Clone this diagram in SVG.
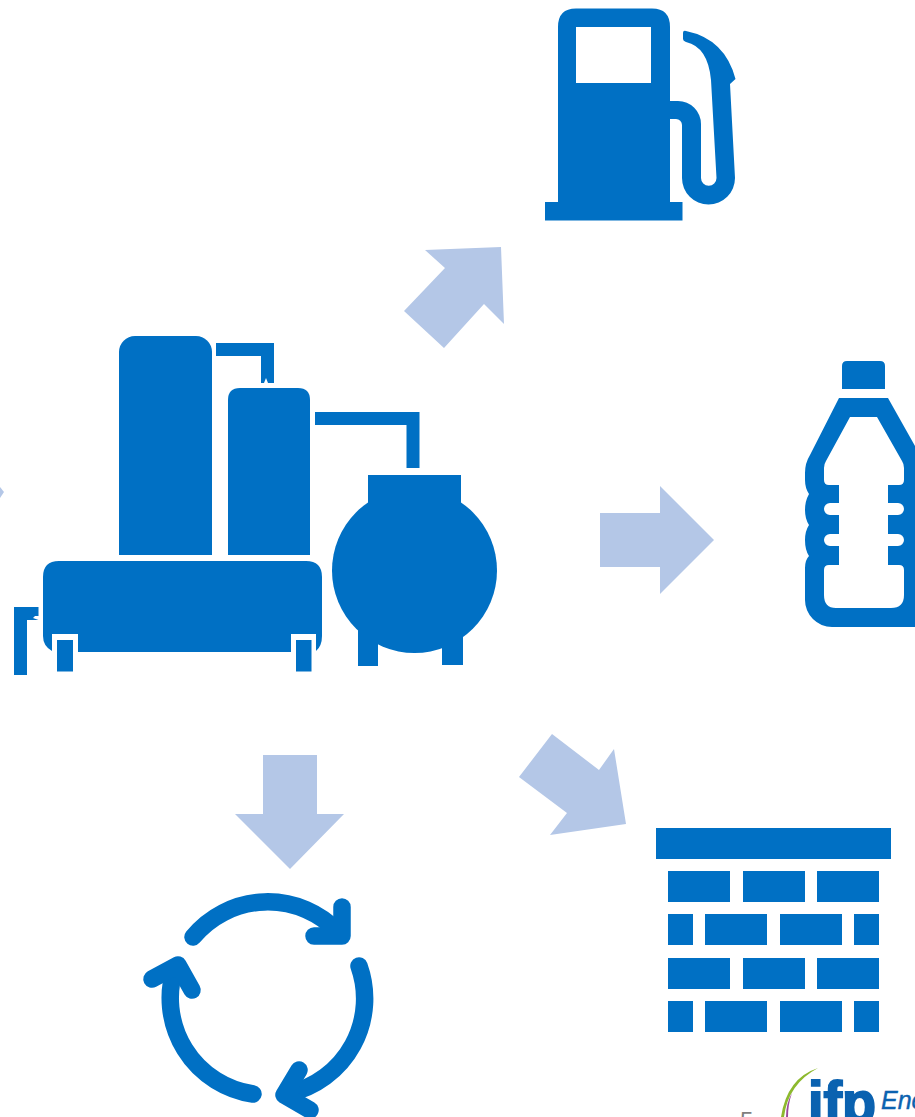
<svg xmlns="http://www.w3.org/2000/svg" width="915" height="1117" viewBox="0 0 915 1117">
<style>
.b{fill:#0070C4}
.a{fill:#B4C7E7}
.s{fill:none;stroke:#0070C4;stroke-width:17.5;stroke-linecap:round;stroke-linejoin:round}
.f{font-family:'Liberation Sans',sans-serif}
</style>
<rect width="915" height="1117" fill="#fff"/>
<g id="connectors">
<polygon class="a" points="425,250 501,247 504,324 484,304 444,348 404,311 445,268"/>
<polygon class="a" points="600,513 660,513 660,486 714,540 660,594 660,567 600,567"/>
<polygon class="a" points="552,734 599,770 614,749 626,824 550,835 567,813 519,777"/>
<polygon class="a" points="263,755 317,755 317,814 344,814 290,869 235,814 263,814"/>
<polygon class="a" points="0,487 4,492 0,498"/>
</g>
<g id="pump">
<path class="b" fill-rule="evenodd" d="M576,8.500H652Q670,8.500 670,27V202H682.500V220.500H545V202H558V27Q558,8.500 576,8.500ZM576,27V83H651V27Z"/>
<path class="b" d="M670,101H678A23,23 0 0 1 701,124V178A7.700,7.700 0 0 0 716.500,178L711,80Q708,47 686,42Q683,41 683,39V33Q683,30 686,31Q725,39 735.500,79L730,84L735,178A26.500,26.500 0 0 1 682,178V125A6,6 0 0 0 676,119H670Z"/>
</g>
<g id="plant">
<rect class="b" x="119" y="336" width="93" height="219" rx="16" ry="16"/>
<rect class="b" x="119" y="400" width="93" height="155"/>
<path class="b" d="M216,343H274V383H268L266,378L264,383H261V356H216Z"/>
<path class="b" d="M240,388H298Q310,388 310,400V555H228V400Q228,388 240,388Z"/>
<path class="b" d="M315,412H419.500V468H406.500V425H315Z"/>
<circle class="b" cx="414.500" cy="570.500" r="82.500"/>
<rect class="b" x="368" y="475" width="93" height="30"/>
<rect class="b" x="358" y="630" width="20" height="36"/>
<rect class="b" x="442" y="636" width="21" height="29"/>
<path class="b" d="M59,561H306Q322,561 322,577V636Q322,646 316,651V634H291V652H78V634H52V651Q43,646 43,636V577Q43,561 59,561Z"/>
<rect class="b" x="57" y="640" width="16" height="31.500"/>
<rect class="b" x="296" y="640" width="15.500" height="31.500"/>
<path class="b" d="M14,607H38.500V616H35L33,618L38.500,620H27V675H14Z"/>
</g>
<g id="bottle">
<path class="b" d="M847,361H880Q885,361 885,366V389H842V366Q842,361 847,361Z"/>
<path class="b" fill-rule="evenodd" d="M839,398H888L915,446V627H832A27,27 0 0 1 805,600V568Q805,560 809,556Q805,550 805,540Q805,531 809,525Q805,519 805,510Q805,501 809,494Q805,488 805,480V473Q805,463 810,455ZM850,417L826,461Q824,464 824,468V480Q824,485 829,485H839V503H830A6,6 0 0 0 830,515H839V534H830A6,6 0 0 0 830,546H839V565H829Q824,565 824,570V595Q824,608 836,608H891Q904,608 904,595V570Q904,565 899,565H888V546H898A6,6 0 0 0 898,534H888V515H898A6,6 0 0 0 898,503H888V485H899Q904,485 904,480V468Q904,464 902,461L877,417Z"/>
</g>
<g id="bricks">
<rect class="b" x="656" y="828" width="235" height="31"/>
<rect class="b" x="668" y="871" width="62" height="31"/><rect class="b" x="743" y="871" width="62" height="31"/><rect class="b" x="817" y="871" width="62" height="31"/>
<rect class="b" x="668" y="914" width="25" height="31"/><rect class="b" x="705" y="914" width="62" height="31"/><rect class="b" x="780" y="914" width="62" height="31"/><rect class="b" x="854" y="914" width="25" height="31"/>
<rect class="b" x="668" y="958" width="62" height="31"/><rect class="b" x="743" y="958" width="62" height="31"/><rect class="b" x="817" y="958" width="62" height="31"/>
<rect class="b" x="668" y="1001" width="25" height="31"/><rect class="b" x="705" y="1001" width="62" height="31"/><rect class="b" x="780" y="1001" width="62" height="31"/><rect class="b" x="854" y="1001" width="25" height="31"/>
</g>
<g id="recycle">
<path class="s" d="M193,937A97,97 0 0 1 338,932"/>
<path class="s" d="M342,907V936H314"/>
<path class="s" d="M359,966A97,97 0 0 1 290,1093"/>
<path class="s" d="M299,1070L284,1095L310,1110"/>
<path class="s" d="M253,1094A97,97 0 0 1 175,968"/>
<path class="s" d="M152,979L178,965L192,990"/>
</g>
<g id="logo">
<path fill="#8DB92E" d="M818,1068Q787,1078 781,1117H784Q788,1084 818,1068Z"/>
<path fill="#9B4A9E" d="M792,1093Q786,1103 786,1117H788Q788,1104 792,1093Z"/>
<text class="f" x="808" y="1122" font-weight="700" font-size="58" fill="#0B62B0" stroke="#0B62B0" stroke-width="2" textLength="68" lengthAdjust="spacingAndGlyphs">ifp</text>
<text class="f" x="881" y="1109" font-style="italic" font-size="25" fill="#0B62B0" stroke="#0B62B0" stroke-width="0.4">Ene</text>
<text class="f" x="740" y="1129" font-size="24" fill="#7F7F7F">5</text>
</g>
</svg>
